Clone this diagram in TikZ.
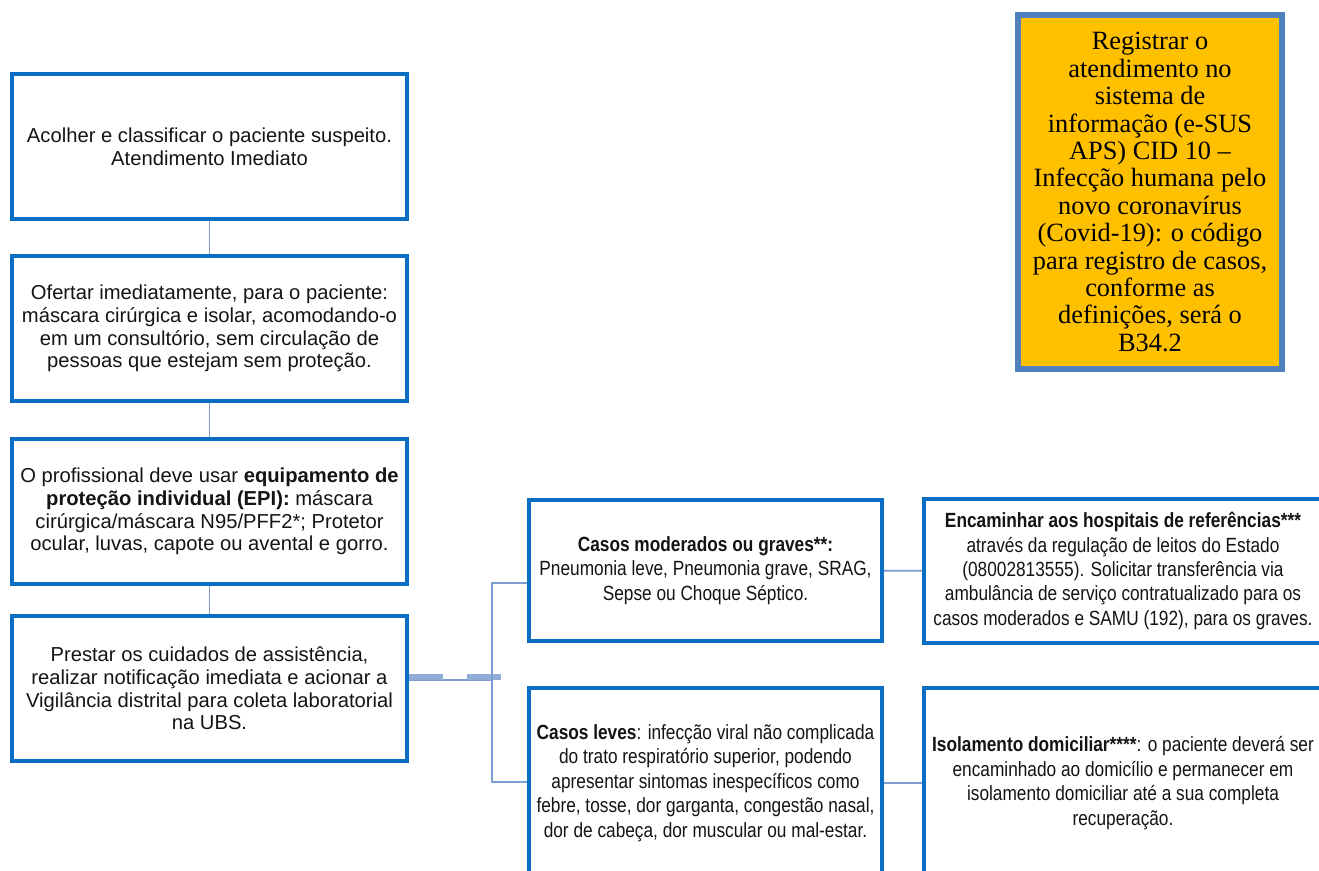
\documentclass[tikz,border=0pt]{standalone}
\usepackage{fontspec}
\setmainfont{Liberation Sans}
\newfontfamily\narrowfont{Liberation Sans}[FakeStretch=0.84]
\newfontfamily\regfont{Liberation Serif}
\usetikzlibrary{positioning}
\definecolor{boxblue}{HTML}{0A6FC2}
\definecolor{linkblue}{HTML}{7E9DD0}
\definecolor{regfill}{HTML}{FFC000}
\definecolor{regedge}{HTML}{4F81BD}

\tikzset{
  stepbox/.style={draw=boxblue, line width=2.3pt, fill=white, align=center,
    inner sep=2pt, text=black!92},
  leftbox/.style={stepbox, minimum width=7.9cm, minimum height=2.9cm,
    font=\fontsize{11.5}{12.9}\selectfont},
  rightbox/.style={stepbox, font=\narrowfont\fontsize{11.7}{13.9}\selectfont},
  link/.style={draw=linkblue, line width=1.1pt},
  seam/.style={draw=linkblue!85, line width=3pt, dash pattern=on 0.68cm off 0.48cm}
}

\begin{document}
\begin{tikzpicture}[x=0.02cm, y=-0.02cm]
\useasboundingbox (0,0) rectangle (1319,871);

% coluna da esquerda
\node[leftbox] (acolher) at (209.5,146.5)
  {Acolher e classificar o paciente suspeito.\\Atendimento Imediato};
\node[leftbox] (ofertar) at (209.5,328.5)
  {Ofertar imediatamente, para o paciente:\\m\'ascara cir\'urgica e isolar, acomodando-o\\em um consult\'orio, sem circula\c{c}\~ao de\\pessoas que estejam sem prote\c{c}\~ao.};
\node[leftbox] (epi) at (209.5,511.5)
  {O profissional deve usar \textbf{equipamento de}\\\textbf{prote\c{c}\~ao individual (EPI):} m\'ascara\\cir\'urgica/m\'ascara N95/PFF2*; Protetor\\ocular, luvas, capote ou avental e gorro.};
\node[leftbox] (cuidados) at (209.5,688.5)
  {Prestar os cuidados de assist\^encia,\\realizar notifica\c{c}\~ao imediata e acionar a\\Vigil\^ancia distrital para coleta laboratorial\\na UBS.};

% casos
\node[rightbox, minimum width=7.06cm, minimum height=2.82cm] (graves) at (705.5,570.5)
  {\textbf{Casos moderados ou graves**:}\\Pneumonia leve, Pneumonia grave, SRAG,\\Sepse ou Choque S\'eptico.};
\node[rightbox, minimum width=7.06cm, minimum height=3.8cm] (leves) at (705.5,783)
  {\textbf{Casos leves}: infec\c{c}\~ao viral n\~ao complicada\\do trato respirat\'orio superior, podendo\\apresentar sintomas inespec\'ificos como\\febre, tosse, dor garganta, congest\~ao nasal,\\dor de cabe\c{c}a, dor muscular ou mal-estar.};

% condutas
\node[rightbox, minimum width=7.96cm, minimum height=2.88cm] (hospital) at (1123,571)
  {\textbf{Encaminhar aos hospitais de refer\^encias***}\\atrav\'es da regula\c{c}\~ao de leitos do Estado\\(08002813555). Solicitar transfer\^encia via\\ambul\^ancia de servi\c{c}o contratualizado para os\\casos moderados e SAMU (192), para os graves.};
\node[rightbox, minimum width=7.96cm, minimum height=3.8cm] (isolamento) at (1123,783)
  {\textbf{Isolamento domiciliar****}: o paciente dever\'a ser\\encaminhado ao domic\'ilio e permanecer em\\isolamento domiciliar at\'e a sua completa\\recupera\c{c}\~ao.};

% registro
\node[draw=regedge, line width=3.4pt, fill=regfill, align=center,
  minimum width=5.28cm, minimum height=7.08cm,
  font=\regfont\fontsize{15}{15.6}\selectfont] (registro) at (1150,192)
  {Registrar o\\atendimento no\\sistema de\\informa\c{c}\~ao (e-SUS\\APS) CID 10 \textendash\\Infec\c{c}\~ao humana pelo\\novo coronav\'irus\\(Covid-19): o c\'odigo\\para registro de casos,\\conforme as\\defini\c{c}\~oes, ser\'a o\\B34.2};

% ligacoes
\draw[link] (acolher) -- (ofertar);
\draw[link] (ofertar) -- (epi);
\draw[link] (epi) -- (cuidados);
\coordinate (split) at (492,680);
\coordinate (seamend) at (503,677);
\coordinate (hi) at (492,583);
\coordinate (lo) at (492,782);
\draw[link] (cuidados.east |- split) -- (split);
\draw[seam] (cuidados.east |- seamend) -- (seamend);
\draw[link] (graves.west |- hi) -- (hi) -- (lo) -- (leves.west |- lo);
\draw[link] (graves) -- (hospital);
\draw[link] (leves) -- (isolamento);
\end{tikzpicture}
\end{document}
